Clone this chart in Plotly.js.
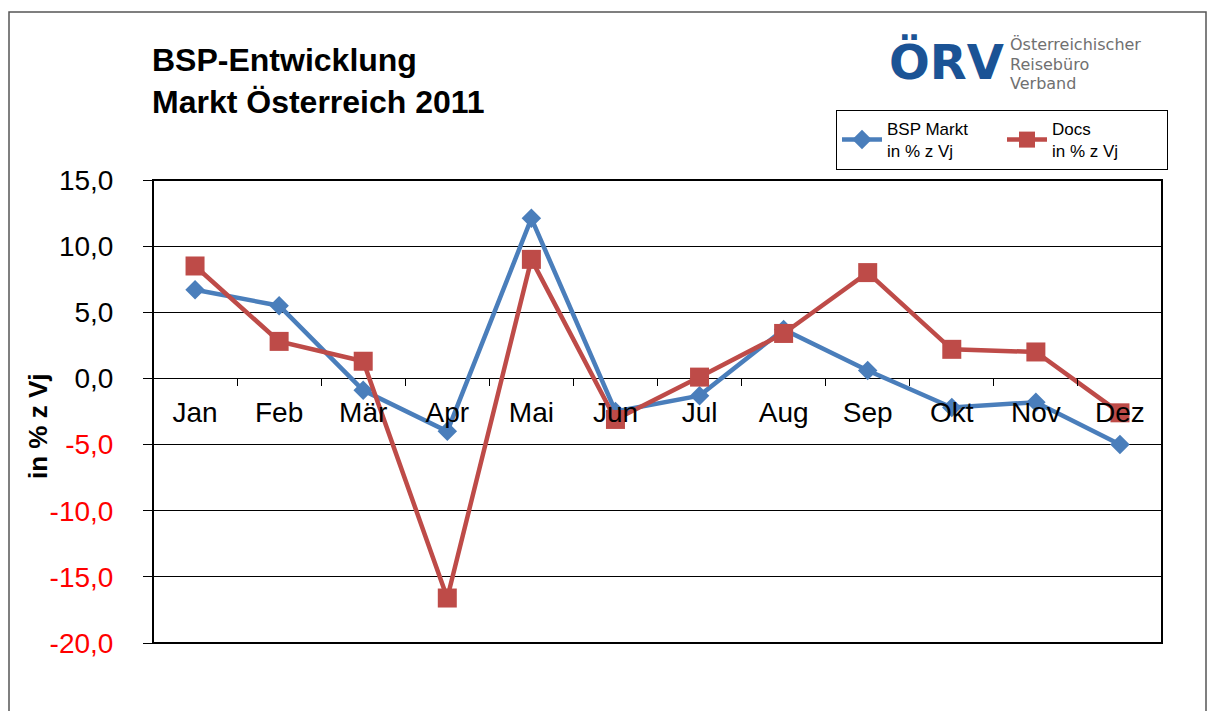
<!DOCTYPE html>
<html>
<head>
<meta charset="utf-8">
<script src="https://cdn.plot.ly/plotly-3.0.1.min.js"></script>
<style>html,body{margin:0;padding:0;background:#fff;}#chart{width:1208px;height:711px;}</style>
</head>
<body>
<div id="chart"></div>
<script>
const months = ["Jan","Feb","Mär","Apr","Mai","Jun","Jul","Aug","Sep","Okt","Nov","Dez"];
const bspMarkt = [6.7, 5.5, -0.9, -4.0, 12.1, -2.5, -1.3, 3.7, 0.6, -2.2, -1.8, -5.0];
const docs = [8.5, 2.8, 1.3, -16.6, 9.0, -3.1, 0.1, 3.4, 8.0, 2.2, 2.0, -2.6];
const yTickVals = [-20, -15, -10, -5, 0, 5, 10, 15];
const yTickText = ["-20,0", "-15,0", "-10,0", "-5,0", "0,0", "5,0", "10,0", "15,0"];
const seriesNames = ["BSP Markt<br>in % z Vj", "Docs<br>in % z Vj"];
const logoLines = ["Österreichischer", "Reisebüro", "Verband"];

const W = 1208, H = 711;
const L = 153, R = 1162, T = 180, B = 643;
const px = x => (x - L) / (R - L);
const py = y => (B - y) / (B - T);

const tickText = yTickText.map((t, i) => yTickVals[i] < 0 ? '<span style="color:#ff0000">' + t + '</span>' : t);

const traces = [
  {x: months, y: bspMarkt, name: seriesNames[0], type: 'scatter', mode: 'lines+markers',
   line: {color: '#4A7EBB', width: 4.5}, marker: {symbol: 'diamond', size: 15, color: '#4A7EBB'}},
  {x: months, y: docs, name: seriesNames[1], type: 'scatter', mode: 'lines+markers',
   line: {color: '#BE4B48', width: 4.5}, marker: {symbol: 'square', size: 19, color: '#BE4B48'}}
];

const logoAnn = logoLines.map((t, i) => ({
  text: t, xref: 'paper', yref: 'paper', x: px(1008), y: py(44 + i * 20),
  xanchor: 'left', yanchor: 'middle', showarrow: false,
  font: {size: 16, color: '#707070', family: 'DejaVu Sans, sans-serif'}
}));

const layout = {
  width: W, height: H,
  margin: {l: L, r: W - R, t: T, b: H - B},
  paper_bgcolor: '#fff', plot_bgcolor: '#fff',
  font: {family: 'Liberation Sans, Arial, sans-serif', color: '#000'},
  showlegend: true,
  legend: {orientation: 'h', x: px(836), y: py(110), xanchor: 'left', yanchor: 'top',
           bordercolor: '#000', borderwidth: 1, bgcolor: '#fff',
           font: {size: 17, family: 'Liberation Sans, Arial, sans-serif'},
           entrywidth: 110, itemwidth: 40},
  xaxis: {type: 'category', anchor: 'free', position: 20/35, side: 'bottom',
          showgrid: false, showline: false, zeroline: false,
          ticks: 'outside', tickson: 'boundaries', ticklen: 7, tickcolor: '#000', tickwidth: 1,
          ticklabelstandoff: 15,
          tickfont: {size: 28, color: '#000'}, range: [-0.5, 11.5]},
  yaxis: {range: [-20, 15], tickvals: yTickVals, ticktext: tickText,
          showgrid: true, gridcolor: '#000', gridwidth: 1, zeroline: false,
          ticks: 'outside', ticklen: 9, tickcolor: '#000', tickwidth: 1,
          ticklabelstandoff: 24,
          showline: false, tickfont: {size: 28, color: '#000'}},
  shapes: [
    {type: 'rect', xref: 'paper', yref: 'paper', x0: 0, x1: 1, y0: 0, y1: 1,
     line: {color: '#000', width: 2}, layer: 'above'},
    {type: 'rect', xref: 'paper', yref: 'paper', x0: px(9), x1: px(1206), y0: py(12), y1: py(760),
     line: {color: '#555', width: 1.5}}
  ],
  annotations: [
    {text: '<b>BSP-Entwicklung<br>Markt Österreich 2011</b>', xref: 'paper', yref: 'paper',
     x: px(150), y: py(40), xanchor: 'left', yanchor: 'top', align: 'left', showarrow: false,
     font: {size: 32, color: '#000'}},
    {text: '<b>in % z Vj</b>', xref: 'paper', yref: 'paper', x: px(38), y: py(427),
     xanchor: 'center', yanchor: 'middle', textangle: -90, showarrow: false,
     font: {size: 26, color: '#000'}},
    {text: '<b>ÖRV</b>', xref: 'paper', yref: 'paper', x: px(946), y: py(62),
     xanchor: 'center', yanchor: 'middle', showarrow: false,
     font: {size: 48, color: '#1B5395', family: 'DejaVu Sans, sans-serif'}}
  ].concat(logoAnn)
};

Plotly.newPlot('chart', traces, layout, {staticPlot: true, displayModeBar: false});
</script>
</body>
</html>
